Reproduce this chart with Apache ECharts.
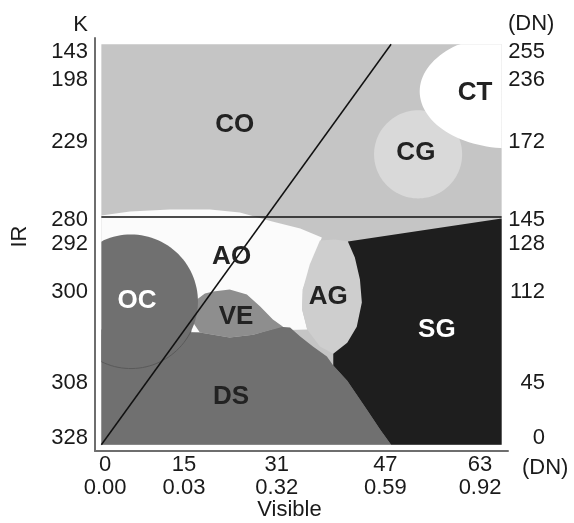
<!DOCTYPE html>
<html>
<head>
<meta charset="utf-8">
<script src="https://cdn.jsdelivr.net/npm/echarts@6/dist/echarts.min.js"></script>
<style>html,body{margin:0;padding:0;background:#fff}#chart{width:574px;height:523px}</style>
</head>
<body>
<div id="chart"></div>
<script>
// feature space: Visible DN (0-63) x IR DN (0-255)
const X_MAX = 63, Y_MAX = 255;

// tick labels, placed where they sit on the figure (DN units)
const xTickPos = [0.6, 13.0, 27.6, 44.7, 59.6];
const xTickDN = ['0', '15', '31', '47', '63'];
const xTickRefl = ['0.00', '0.03', '0.32', '0.59', '0.92'];
const yTickPos = [250, 232, 193, 143, 128, 97.5, 39.5, 4];
const yTickK = ['143', '198', '229', '280', '292', '300', '308', '328'];
const yTickDN = ['255', '236', '172', '145', '128', '112', '45', '0'];

// class regions, outlines in DN [visible, ir]
const regionAO = [[0,146],[4.5,148.5],[10.8,149.8],[17.1,149.8],[21.8,147.9],[26.9,142.2],[31.3,137.7],[34.7,132],[33.3,116.7],[31.7,98.9],[31.6,86.1],[32.4,73.3],[0,70.1]];
const regionDS = [[0,0],[0,73.3],[15.5,71.4],[20.2,68.2],[23.9,70.1],[28.1,75.2],[29.7,74.6],[31.3,68.9],[33.3,62.5],[35.5,56.1],[36.5,50.4],[38.7,40.8],[41.8,22.3],[43.9,9.6],[45.6,0]];
const regionVE = [[13.9,81],[14.4,90.5],[16.3,96.3],[17.6,97.5],[20.2,98.8],[22.9,95.6],[25,88],[27,79.7],[28.6,75.2],[23.9,70.1],[20.2,68.2],[15.5,71.4]];
const regionAG = [[34.4,130.1],[36.8,130.7],[38.8,129.4],[39.9,119.2],[40.7,105.2],[41,90.5],[40.2,75.2],[38.7,65],[36.5,58],[34.4,62.5],[32.4,73.3],[31.6,86.1],[31.7,98.9],[32.8,114.8]];
const regionSG = [[38.8,129.4],[63,144.1],[63,0],[45.6,0],[43.9,9.6],[41.8,22.3],[38.7,40.8],[36.5,50.4],[36.5,58],[38.7,65],[40.2,75.2],[41,90.5],[40.7,105.2],[39.9,119.2]];
// round classes: [centre x, centre y, radius x, radius y]
const blobOC = [4.65, 91.2, 10.55, 42.7];
const blobCG = [49.85, 184.9, 6.93, 28.05];
const blobCT = [64.3, 225.0, 14.2, 36.3];

// threshold lines
const lineIR = [[0, 145], [63, 145]];
const lineRatio = [[0, 0], [45.6, 255]];

const classLabels = [
  { name: 'CO', value: [21.0, 203.8] },
  { name: 'CT', value: [58.8, 224.0] },
  { name: 'CG', value: [49.5, 185.6] },
  { name: 'AO', value: [20.5, 119.9] },
  { name: 'OC', value: [5.6, 91.5], light: true },
  { name: 'VE', value: [21.2, 81.4] },
  { name: 'AG', value: [35.7, 94.0] },
  { name: 'SG', value: [52.8, 73.2], light: true },
  { name: 'DS', value: [20.4, 30.8] }
];

const clampPt = p => [Math.min(Math.max(p[0], 0), X_MAX), Math.min(Math.max(p[1], 0), Y_MAX)];

function blobPoints(b) {
  const pts = [];
  for (let i = 0; i < 120; i++) {
    const a = i / 120 * Math.PI * 2;
    pts.push(clampPt([b[0] + b[2] * Math.cos(a), b[1] + b[3] * Math.sin(a)]));
  }
  return pts;
}

function area(pts, fill, z) {
  return {
    type: 'custom', z: z, silent: true, data: [[0, 0]],
    renderItem: (params, api) => ({
      type: 'polygon',
      shape: { points: pts.map(p => api.coord(p)) },
      style: { fill: fill }
    })
  };
}

// faint lower outline of the OC circle where it runs over DS
const ocEdge = (() => {
  const a0 = -Math.acos(-blobOC[0] / blobOC[2]), a1 = -0.45;
  const pts = [];
  for (let i = 0; i <= 60; i++) {
    const a = a0 + (a1 - a0) * i / 60;
    pts.push([blobOC[0] + blobOC[2] * Math.cos(a), blobOC[1] + blobOC[3] * Math.sin(a)]);
  }
  return pts;
})();

const chart = echarts.init(document.getElementById('chart'));
const font = 'Liberation Sans, Arial, Helvetica, sans-serif';
const txt = { fontSize: 22, color: '#1a1a1a', fontFamily: font };
const frame = { show: true, onZero: false, lineStyle: { color: '#6e6e6e', width: 2 } };
const hidden = { axisLine: { show: false, onZero: false }, axisTick: { show: false }, axisLabel: { show: false }, splitLine: { show: false } };

chart.setOption({
  animation: false,
  backgroundColor: '#fff',
  textStyle: { fontFamily: font },
  grid: { left: 95, top: 38, width: 413, height: 413, containLabel: false, outerBoundsMode: 'none' },
  xAxis: [{
    type: 'value', min: -1, max: 64,
    axisLine: frame,
    axisTick: { show: false }, splitLine: { show: false },
    axisLabel: Object.assign({
      customValues: xTickPos, margin: 2, lineHeight: 23,
      formatter: v => { const i = xTickPos.indexOf(v); return i < 0 ? '' : xTickDN[i] + '\n' + xTickRefl[i]; }
    }, txt),
    name: '(DN)', nameLocation: 'end', nameGap: 14,
    nameTextStyle: Object.assign({ align: 'left', verticalAlign: 'top', padding: [6, 0, 0, 0] }, txt)
  }, Object.assign({
    type: 'value', min: -1, max: 64, position: 'bottom',
    name: 'Visible', nameLocation: 'middle', nameGap: 48,
    nameTextStyle: Object.assign({ padding: [0, 24, 0, 0] }, txt)
  }, hidden)],
  yAxis: [{
    type: 'value', min: -4, max: 259, position: 'left',
    axisLine: frame,
    axisTick: { show: false }, splitLine: { show: false },
    axisLabel: Object.assign({
      customValues: yTickPos, margin: 7,
      formatter: v => { const i = yTickPos.indexOf(v); return i < 0 ? '' : yTickK[i]; }
    }, txt),
    name: 'K', nameLocation: 'end', nameGap: 13,
    nameTextStyle: Object.assign({ align: 'right', verticalAlign: 'middle', padding: [0, 7, 0, 0] }, txt)
  }, {
    type: 'value', min: -4, max: 259, position: 'right',
    axisLine: { show: false, onZero: false }, axisTick: { show: false }, splitLine: { show: false },
    axisLabel: Object.assign({
      customValues: yTickPos, margin: 37, align: 'right',
      formatter: v => { const i = yTickPos.indexOf(v); return i < 0 ? '' : yTickDN[i]; }
    }, txt),
    name: '(DN)', nameLocation: 'end', nameGap: 14,
    nameTextStyle: Object.assign({ align: 'left', verticalAlign: 'middle' }, txt)
  }, Object.assign({
    type: 'value', min: -4, max: 259, position: 'left',
    name: 'IR', nameLocation: 'middle', nameGap: 64,
    nameTextStyle: Object.assign({ padding: [0, 0, 0, 16] }, txt)
  }, hidden)],
  series: [
    area([[0, 0], [X_MAX, 0], [X_MAX, Y_MAX], [0, Y_MAX]], '#c5c5c5', 1),   // CO
    area(blobPoints(blobCG), '#d9d9d9', 2),
    area(blobPoints(blobCT), '#ffffff', 3),
    area(regionAO, '#fbfbfb', 4),
    area(regionDS, '#707070', 5),
    area(regionVE, '#8e8e8e', 6),
    area(blobPoints(blobOC), '#707070', 7),
    {
      type: 'line', z: 8, silent: true, data: ocEdge, symbol: 'none',
      lineStyle: { color: '#5a5a5a', width: 1 }
    },
    area(regionAG, '#cecece', 9),
    area(regionSG, '#1e1e1e', 10),
    {
      type: 'line', z: 11, silent: true, data: lineIR, symbol: 'none',
      lineStyle: { color: '#111', width: 1.5 }
    },
    {
      type: 'line', z: 11, silent: true, data: lineRatio, symbol: 'none',
      lineStyle: { color: '#111', width: 1.5 }
    },
    {
      type: 'scatter', z: 12, silent: true, symbolSize: 2, itemStyle: { color: 'transparent', opacity: 1 },
      data: classLabels.map(d => ({
        name: d.name, value: d.value,
        label: { color: d.light ? '#ffffff' : '#222222' }
      })),
      label: {
        show: true, position: 'inside', formatter: '{b}', fontSize: 26, fontWeight: 'bold', fontFamily: font
      }
    }
  ]
});
</script>
</body>
</html>
